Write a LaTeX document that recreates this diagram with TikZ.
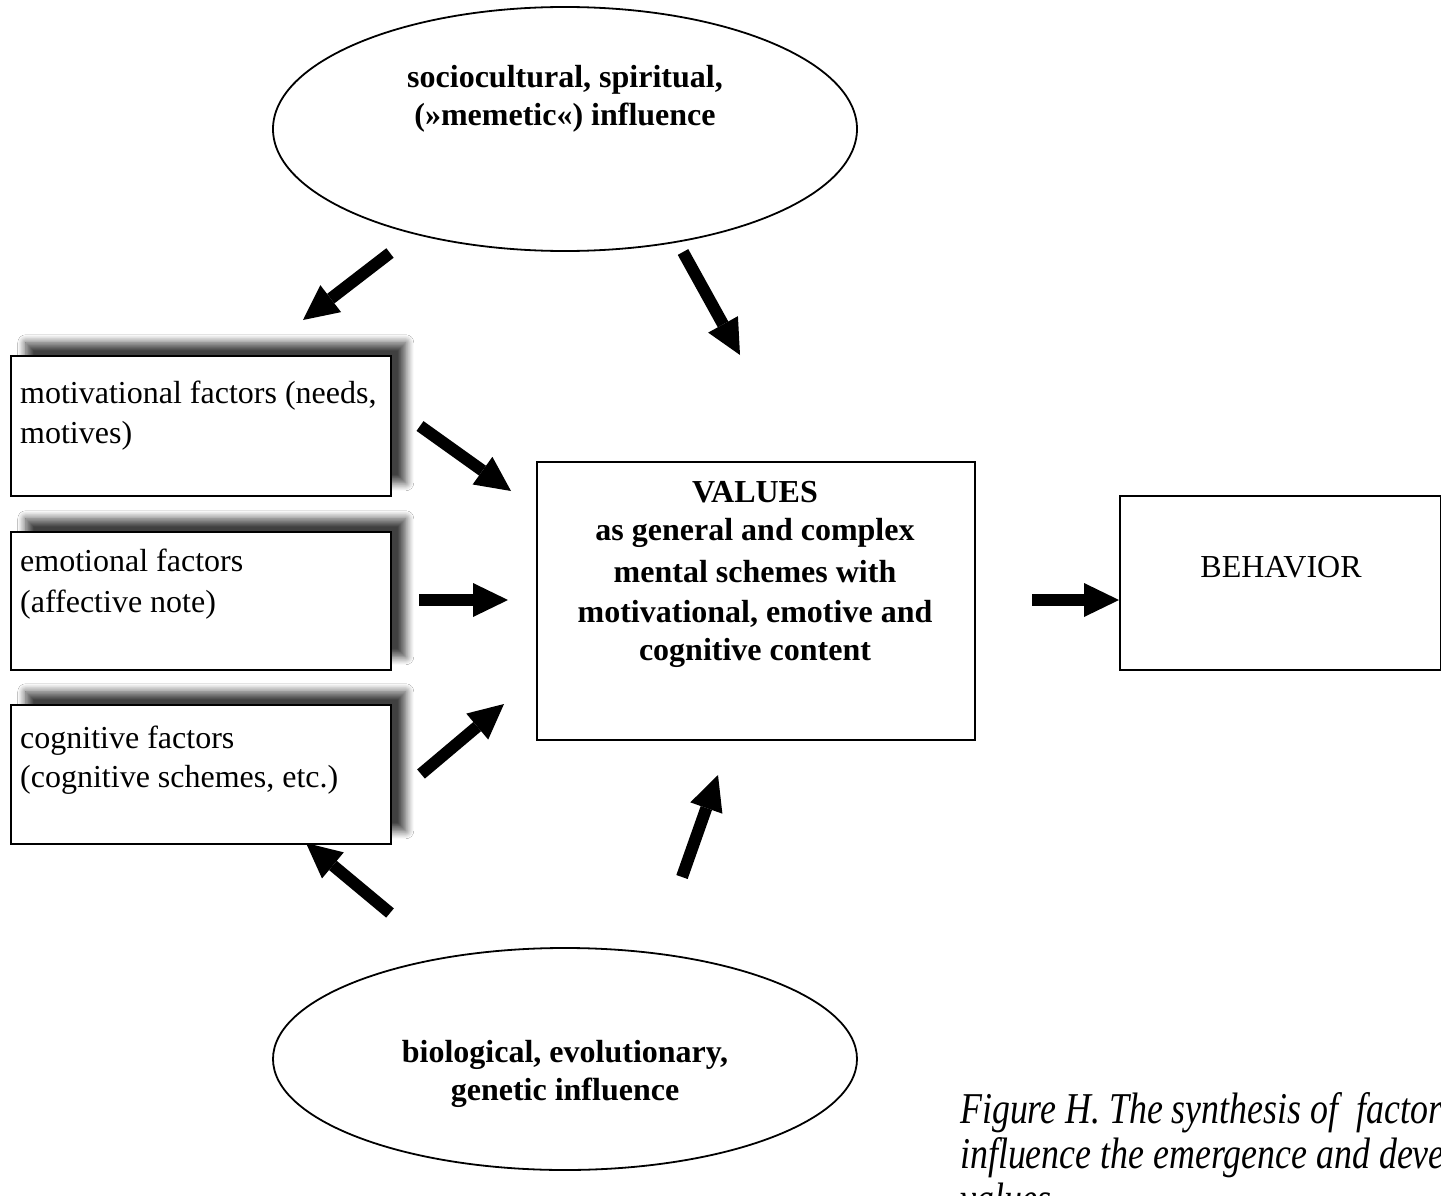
\documentclass[tikz,border=0pt]{standalone}
\usepackage{fontspec}
\setmainfont{Liberation Serif}
\usepackage{graphicx}
\usetikzlibrary{arrows.meta,shapes.geometric,shadows.blur}
\begin{document}
\begin{tikzpicture}[x=1pt,y=-1pt,
  box/.style={draw=black, line width=1.5pt, fill=white, rectangle, inner sep=0pt, anchor=north west},
  shbox/.style={box, blur shadow={shadow xshift=15pt, shadow yshift=13pt, shadow blur radius=8pt, shadow opacity=75, shadow blur steps=10}},
  oval/.style={draw=black, line width=1.8pt, ellipse, inner sep=0pt, minimum width=584pt},
  txt/.style={font=\fontsize{32}{39}\selectfont, anchor=base west, inner sep=0pt},
  btxt/.style={font=\fontsize{32}{39}\selectfont\bfseries, anchor=base, inner sep=0pt},
  ctxt/.style={font=\fontsize{32}{39}\selectfont, anchor=base, inner sep=0pt},
  captxt/.style={font=\fontsize{44}{46}\selectfont\itshape, anchor=base west, inner sep=0pt},
  bigarrow/.style={line width=12pt, -{Triangle[width=34pt,length=35pt,line width=0pt]}},
]
\clip (0,0) rectangle (1441,1196);
\fill[white] (0,0) rectangle (1441,1196);

% ellipses
\node[oval, minimum height=244pt] (soc) at (565,129) {};
\node[btxt] (soc-l1) at (565,88) {sociocultural, spiritual,};
\node[btxt] (soc-l2) at (565,126) {(»memetic«) influence};

\node[oval, minimum height=222pt] (bio) at (565,1059) {};
\node[btxt] (bio-l1) at (565,1062) {biological, evolutionary,};
\node[btxt] (bio-l2) at (565,1100) {genetic influence};

% left boxes with shadows
\node[shbox, minimum width=380pt, minimum height=140pt] (mot) at (10,355) {};
\node[txt] (mot-l1) at (20,403) {motivational factors (needs,};
\node[txt] (mot-l2) at (20,443) {motives)};

\node[shbox, minimum width=380pt, minimum height=138pt] (emo) at (10,531) {};
\node[txt] (emo-l1) at (20,571) {emotional factors};
\node[txt] (emo-l2) at (20,612) {(affective note)};

\node[shbox, minimum width=380pt, minimum height=139pt] (cog) at (10,704) {};
\node[txt] (cog-l1) at (20,748) {cognitive factors};
\node[txt] (cog-l2) at (20,787) {(cognitive schemes, etc.)};

% values box
\node[box, minimum width=438pt, minimum height=278pt] (val) at (536,461) {};
\node[btxt] (val-l1) at (755,502) {VALUES};
\node[btxt] (val-l2) at (755,540) {as general and complex};
\node[btxt] (val-l3) at (755,582) {mental schemes with};
\node[btxt] (val-l4) at (755,622) {motivational, emotive and};
\node[btxt] (val-l5) at (755,660) {cognitive content};

% behavior box
\node[box, minimum width=321pt, minimum height=174pt] (beh) at (1119,495) {};
\node[ctxt] (beh-l1) at (1281,577) {BEHAVIOR};

% arrow end points
\coordinate (a1s) at (390,253); \coordinate (a1e) at (303,320);
\coordinate (a2s) at (683,252); \coordinate (a2e) at (740,355);
\coordinate (a3s) at (420,426); \coordinate (a3e) at (511,491);
\coordinate (a4s) at (419,600); \coordinate (a4e) at (508,600);
\coordinate (a5s) at (421,774); \coordinate (a5e) at (504,704);
\coordinate (a6s) at (1032,600); \coordinate (a6e) at (1119,600);
\coordinate (a7s) at (390,913); \coordinate (a7e) at (306,843);
\coordinate (a8s) at (682,877); \coordinate (a8e) at (718,775);

\draw[bigarrow] (a1s) -- (a1e);
\draw[bigarrow] (a2s) -- (a2e);
\draw[bigarrow] (a3s) -- (a3e);
\draw[bigarrow] (a4s) -- (a4e);
\draw[bigarrow] (a5s) -- (a5e);
\draw[bigarrow] (a6s) -- (a6e);
\draw[bigarrow] (a7s) -- (a7e);
\draw[bigarrow] (a8s) -- (a8e);

% caption
\node[captxt] (cap1) at (960,1123) {\scalebox{0.815}[1]{Figure H. The synthesis of\ \ factors that}};
\node[captxt] (cap2) at (960,1168) {\scalebox{0.815}[1]{influence the emergence and development of}};
\node[captxt] (cap3) at (960,1213) {\scalebox{0.815}[1]{values}};
\end{tikzpicture}
\end{document}
